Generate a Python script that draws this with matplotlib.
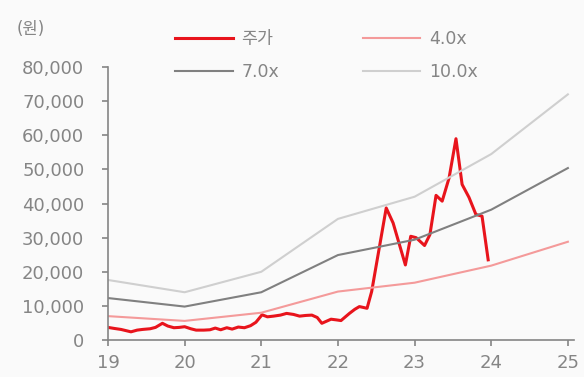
import matplotlib.pyplot as plt
from matplotlib.ticker import FuncFormatter

plt.rcParams['font.family'] = ['DejaVu Sans', 'Noto Sans CJK KR']

# PER band (year-end points)
band_years = [19, 20, 21, 22, 23, 24, 25]
per_4x = [7000, 5600, 8000, 14200, 16800, 21800, 28800]
per_7x = [12300, 9800, 14000, 24900, 29400, 38200, 50400]
per_10x = [17600, 14000, 20000, 35500, 42000, 54500, 72000]

# share price
price_t = [19.00, 19.08, 19.17, 19.30, 19.38, 19.45, 19.55, 19.62, 19.71, 19.78,
           19.86, 19.93, 20.00, 20.08, 20.15, 20.25, 20.33, 20.40, 20.47, 20.55,
           20.62, 20.70, 20.78, 20.86, 20.93, 21.01, 21.08, 21.16, 21.25, 21.33,
           21.42, 21.50, 21.58, 21.66, 21.73, 21.79, 21.86, 21.91, 21.98, 22.04,
           22.15, 22.22, 22.28, 22.38, 22.44, 22.63, 22.72, 22.88, 22.95, 23.02,
           23.13, 23.20, 23.28, 23.36, 23.45, 23.54, 23.62, 23.71, 23.80, 23.88,
           23.96]
price = [3700, 3400, 3100, 2400, 2900, 3100, 3300, 3700, 4900, 4100,
         3600, 3700, 3900, 3300, 2900, 2900, 3000, 3500, 3000, 3600,
         3200, 3800, 3600, 4200, 5200, 7400, 6800, 7000, 7300, 7800,
         7500, 7000, 7200, 7300, 6600, 4900, 5600, 6100, 5900, 5700,
         7800, 9000, 9800, 9300, 14200, 38700, 34300, 22000, 30400, 30000,
         27700, 30900, 42400, 40700, 47500, 59000, 45600, 41800, 36800, 36300,
         23500]

grey = '#858585'

fig = plt.figure(figsize=(5.84, 3.77), dpi=100)
fig.patch.set_facecolor('#fafafa')
ax = fig.add_axes([0.1849, 0.0981, 0.798, 0.724])
ax.set_facecolor('#fafafa')

l_price, = ax.plot(price_t, price, color='#e8141c', lw=2.2, label='주가')
l4, = ax.plot(band_years, per_4x, color='#f49a9a', lw=1.5, label='4.0x')
l7, = ax.plot(band_years, per_7x, color='#808080', lw=1.5, label='7.0x')
l10, = ax.plot(band_years, per_10x, color='#cfcfcf', lw=1.5, label='10.0x')

ax.set_xlim(19, 25.08)
ax.set_ylim(0, 80000)
ax.set_xticks(band_years)
ax.set_yticks(range(0, 80001, 10000))
ax.yaxis.set_major_formatter(FuncFormatter(lambda v, p: f'{int(v):,}'))

for s in ['top', 'right']:
    ax.spines[s].set_visible(False)
for s in ['left', 'bottom']:
    ax.spines[s].set_color(grey)
    ax.spines[s].set_linewidth(1.2)
ax.tick_params(colors=grey, labelsize=13, length=4, width=1.2, direction='out')
ax.tick_params(axis='x', pad=6)
ax.tick_params(axis='y', pad=13)

fig.text(0.029, 0.923, '(원)', color=grey, fontsize=12, va='center')

fig.legend([l_price, l7, l4, l10], ['주가', '7.0x', '4.0x', '10.0x'],
           ncol=2, loc='upper left', bbox_to_anchor=(0.273, 0.961),
           frameon=False, fontsize=12.5, labelcolor=grey,
           handlelength=3.33, handletextpad=0.5, columnspacing=4.8,
           labelspacing=0.87)

fig.savefig('out.png', dpi=100, facecolor=fig.get_facecolor())
